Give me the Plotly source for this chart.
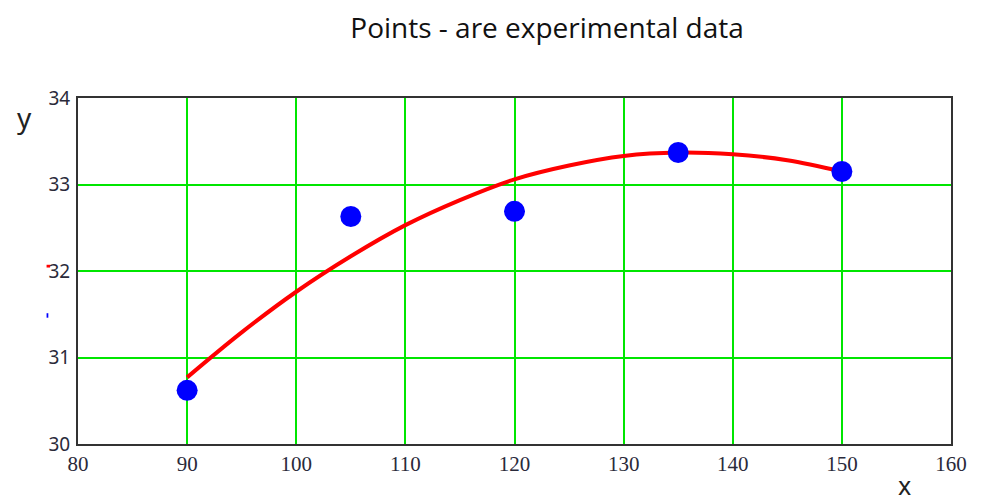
import plotly.graph_objects as go

# experimental points
exp_x = [90, 105, 120, 135, 150]
exp_y = [30.62, 32.63, 32.69, 33.37, 33.15]

# fitted curve
fit_x = [90, 95, 100, 105, 110, 115, 120, 125, 130, 135, 140, 145, 150]
fit_y = [30.77, 31.29, 31.76, 32.17, 32.53, 32.82, 33.06, 33.22, 33.33, 33.37, 33.35, 33.28, 33.15]

x_ticks = [80, 90, 100, 110, 120, 130, 140, 150, 160]
y_ticks = [30, 31, 32, 33, 34]

fig = go.Figure()
fig.add_trace(go.Scatter(x=fit_x, y=fit_y, mode="lines", line=dict(color="#ff0000", width=4, shape="spline"),
                         showlegend=False, hoverinfo="skip"))
fig.add_trace(go.Scatter(x=exp_x, y=exp_y, mode="markers", marker=dict(color="#0000ff", size=21),
                         showlegend=False))

fig.update_layout(
    width=973, height=494,
    margin=dict(l=70, r=30, t=90, b=58),
    plot_bgcolor="white", paper_bgcolor="white",
    title=dict(text="Points - are experimental data", x=0.554, xanchor="center", y=0.96, yanchor="middle",
               font=dict(family="Open Sans", size=28, color="#111111")),
    xaxis=dict(range=[80, 160], tickvals=x_ticks, showgrid=True, gridcolor="#00e600", gridwidth=1.5,
               zeroline=False, showline=True, linecolor="#333333", linewidth=2, mirror=True,
               ticks="", tickfont=dict(family="Liberation Serif", size=21, color="#2a2a3a")),
    yaxis=dict(range=[30, 34], tickvals=y_ticks, showgrid=True, gridcolor="#00e600", gridwidth=1.5,
               zeroline=False, showline=True, linecolor="#333333", linewidth=2, mirror=True,
               ticks="", ticklabelstandoff=2, tickfont=dict(family="Noto Sans", size=19, color="#2a2a3a")),
    annotations=[
        dict(text="y", xref="paper", yref="paper", x=-0.072, y=0.945, xanchor="left", yanchor="middle",
             showarrow=False, font=dict(family="Noto Sans", size=28, color="#222222")),
        dict(text="x", xref="paper", yref="paper", x=0.947, y=-0.118, xanchor="center", yanchor="middle",
             showarrow=False, font=dict(family="Noto Sans", size=25, color="#222222")),
    ],
    shapes=[
        dict(type="rect", xref="paper", yref="paper", x0=-0.036, x1=-0.032, y0=0.510, y1=0.518,
             fillcolor="red", line=dict(width=0)),
        dict(type="rect", xref="paper", yref="paper", x0=-0.036, x1=-0.034, y0=0.365, y1=0.378,
             fillcolor="blue", line=dict(width=0)),
    ],
)

fig.write_html("out.html")
